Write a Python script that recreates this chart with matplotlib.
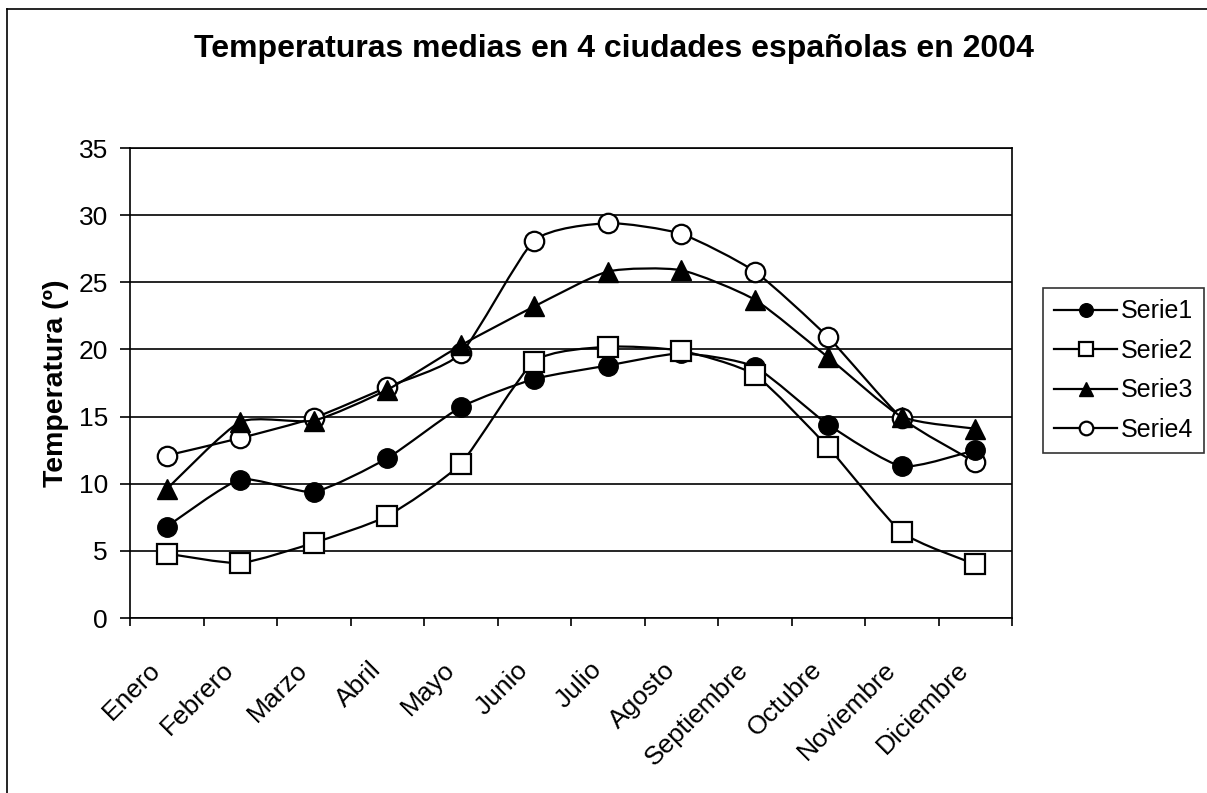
import numpy as np
import matplotlib
matplotlib.use('Agg')
import matplotlib.pyplot as plt
from matplotlib.path import Path
from matplotlib.patches import PathPatch
from matplotlib.lines import Line2D
from matplotlib.transforms import ScaledTranslation

plt.rcParams['font.family'] = ['Liberation Sans', 'DejaVu Sans']

# Datos
meses = ['Enero', 'Febrero', 'Marzo', 'Abril', 'Mayo', 'Junio', 'Julio',
         'Agosto', 'Septiembre', 'Octubre', 'Noviembre', 'Diciembre']
serie1 = [6.8, 10.3, 9.4, 11.9, 15.7, 17.8, 18.8, 19.7, 18.7, 14.4, 11.3, 12.5]
serie2 = [4.8, 4.1, 5.6, 7.6, 11.5, 19.1, 20.2, 19.9, 18.1, 12.7, 6.4, 4.0]
serie3 = [9.6, 14.6, 14.7, 17.0, 20.3, 23.2, 25.8, 25.9, 23.7, 19.4, 15.0, 14.1]
serie4 = [12.1, 13.4, 14.9, 17.2, 19.7, 28.1, 29.4, 28.6, 25.8, 20.9, 14.9, 11.6]
nombres = ['Serie1', 'Serie2', 'Serie3', 'Serie4']
yticks = [0, 5, 10, 15, 20, 25, 30, 35]


def smooth_path(x, y, k=0.1):
    # curva suavizada tipo Excel (Bezier cubica por los puntos)
    pts = np.column_stack([x, y]).astype(float)
    ext = np.vstack([pts[0], pts, pts[-1]])
    verts = [pts[0]]
    codes = [Path.MOVETO]
    for i in range(len(pts) - 1):
        p0, p1, p2, p3 = ext[i], ext[i + 1], ext[i + 2], ext[i + 3]
        c1 = p1 + (p2 - p0) * k
        c2 = p2 - (p3 - p1) * k
        verts += [c1, c2, p2]
        codes += [Path.CURVE4] * 3
    return Path(verts, codes)


fig = plt.figure(figsize=(12.07, 7.93), dpi=100)
ax = fig.add_axes([130 / 1207, 1 - 618 / 793, 882 / 1207, 470 / 793])

x = np.arange(len(meses))
estilos = [
    dict(marker='o', mfc='black', mec='black', ms=14),
    dict(marker='s', mfc='white', mec='black', ms=14, mew=1.6),
    dict(marker='^', mfc='black', mec='black', ms=15),
    dict(marker='o', mfc='white', mec='black', ms=14, mew=1.6),
]
zorders = [4, 5, 6, 3]
series = [serie1, serie2, serie3, serie4]

handles = []
for s, st, z, nombre in zip(series, estilos, zorders, nombres):
    patch = PathPatch(smooth_path(x, s), fill=False, edgecolor='black',
                      lw=1.6, zorder=z)
    ax.add_patch(patch)
    ax.plot(x, s, linestyle='none', zorder=z + 0.5, **st)
    hst = dict(st)
    hst['ms'] = st['ms'] * 0.7
    handles.append(Line2D([], [], color='black', lw=1.6, label=nombre, **hst))

ax.set_xlim(-0.5, len(meses) - 0.5)
ax.set_ylim(0, 35)
ax.set_yticks(yticks)
ax.tick_params(axis='y', direction='out', length=7, width=1.2, pad=9,
               labelsize=19)
ax.yaxis.grid(True, color='black', lw=1.2)
ax.set_axisbelow(True)

# marcas del eje x entre categorias
ax.set_xticks(np.arange(len(meses) + 1) - 0.5)
ax.set_xticklabels([])
ax.tick_params(axis='x', direction='out', length=6, width=1.2)

offset = ScaledTranslation(-10 / 100, -48 / 100, fig.dpi_scale_trans)
for i, m in enumerate(meses):
    ax.text(i, 0, m, transform=ax.get_xaxis_transform() + offset,
            rotation=45, rotation_mode='anchor', ha='right', va='center',
            fontsize=19)

for sp in ax.spines.values():
    sp.set_color('black')
    sp.set_linewidth(1.2)

ax.set_ylabel('Temperatura (º)', fontsize=20.5, fontweight='bold', labelpad=7)

fig.text(614 / 1207, 1 - 49 / 793,
         'Temperaturas medias en 4 ciudades españolas en 2004',
         ha='center', va='center', fontsize=23, fontweight='bold')

leg = fig.legend(handles=handles, loc='upper left',
                 bbox_to_anchor=(1043 / 1207, 1 - 288 / 793),
                 fontsize=18, frameon=True, fancybox=False, edgecolor='black',
                 handlelength=2.5, handletextpad=0.15, labelspacing=0.62,
                 borderpad=0.45, borderaxespad=0)
leg.get_frame().set_linewidth(1.2)

# borde del area del grafico
fig.add_artist(Line2D([7 / 1207, 1.0], [1 - 9 / 793, 1 - 9 / 793],
                      color='black', lw=1.2, transform=fig.transFigure))
fig.add_artist(Line2D([7 / 1207, 7 / 1207], [1 - 9 / 793, 0.0],
                      color='black', lw=1.2, transform=fig.transFigure))

fig.savefig('out.png', dpi=100)
